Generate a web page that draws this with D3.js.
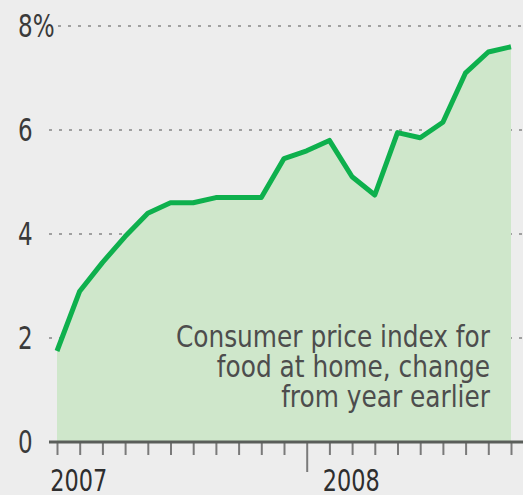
<!DOCTYPE html>
<html>
<head>
<meta charset="utf-8">
<script src="https://cdnjs.cloudflare.com/ajax/libs/d3/7.8.5/d3.min.js"></script>
<style>
  html, body { margin: 0; padding: 0; background: #ededed; }
  #graphicContainer { width: 523px; height: 495px; }
  text { font-family: "Liberation Sans Narrow", "DejaVu Sans Condensed", "Liberation Sans", sans-serif; }
</style>
</head>
<body>
<div id="graphicContainer"></div>
<script>

// monthly readings, Feb 2007 to Oct 2008

var months = ["2007-02", "2007-03", "2007-04", "2007-05", "2007-06", "2007-07", "2007-08",
  "2007-09", "2007-10", "2007-11", "2007-12", "2008-01", "2008-02", "2008-03", "2008-04",
  "2008-05", "2008-06", "2008-07", "2008-08", "2008-09", "2008-10"];

var foodAtHome = [1.75, 2.9, 3.45, 3.95, 4.4, 4.6, 4.6, 4.7, 4.7, 4.7, 5.45,
  5.6, 5.8, 5.1, 4.75, 5.95, 5.85, 6.15, 7.1, 7.5, 7.6];

var yTicks = [0, 2, 4, 6, 8];
var yTickLabels = ["0", "2", "4", "6", "8%"];

var years = ["2007", "2008"];

var noteLines = ["Consumer price index for", "food at home, change", "from year earlier"];

function draw_chart() {

    var width = 523, height = 495;
    var margin = {top: 26, right: 12, bottom: 53, left: 57};

    d3.select("#graphicContainer svg").remove();

    var svg = d3.select("#graphicContainer").append("svg")
        .attr("width", width)
        .attr("height", height);

    // squeeze a text to the narrow width the original font had

    var narrow = (sel, ratio) => sel.each(function() {
        var w = this.getComputedTextLength();
        d3.select(this)
            .attr("textLength", w * ratio)
            .attr("lengthAdjust", "spacingAndGlyphs");
    });

    // month index from the "yyyy-mm" strings, first month = 0

    var first = months[0].split("-").map(Number);
    var monthIndex = m => {
        var p = m.split("-").map(Number);
        return (p[0] - first[0]) * 12 + (p[1] - first[1]);
    };

    var data = months.map((m, i) => ({i: monthIndex(m), value: foodAtHome[i]}));

    var x = d3.scaleLinear()
        .domain([0, months.length - 1])
        .range([margin.left, width - margin.right]);

    var y = d3.scaleLinear()
        .domain([0, 8])
        .range([height - margin.bottom, margin.top]);

    // dotted gridlines

    svg.append("g")
        .selectAll("line")
        .data(yTicks.filter(d => d > 0))
        .enter()
        .append("line")
        .attr("x1", d => d == 8 ? 58 : 49)
        .attr("x2", width)
        .attr("y1", d => y(d))
        .attr("y2", d => y(d))
        .attr("stroke", "#a0a0a0")
        .attr("stroke-width", 2)
        .attr("stroke-dasharray", "3,7");

    // area and line

    var area = d3.area()
        .x(d => x(d.i))
        .y0(y(0))
        .y1(d => y(d.value));

    var line = d3.line()
        .x(d => x(d.i))
        .y(d => y(d.value));

    svg.append("path")
        .datum(data)
        .attr("d", area)
        .attr("fill", "#cfe7cb");

    svg.append("path")
        .datum(data)
        .attr("d", line)
        .attr("fill", "none")
        .attr("stroke", "#0eb04d")
        .attr("stroke-width", 5)
        .attr("stroke-linejoin", "round");

    // y labels

    svg.append("g")
        .selectAll("text")
        .data(yTicks)
        .enter()
        .append("text")
        .attr("x", 18)
        .attr("y", d => y(d) + 11)
        .attr("font-size", 32)
        .attr("fill", "#3a3a3a")
        .text((d, i) => yTickLabels[i])
        .call(narrow, 0.8);

    // x axis with month ticks

    var yearStarts = years.map(yr => monthIndex(yr + "-01"));

    var xAxis = d3.axisBottom(x)
        .tickValues(data.map(d => d.i))
        .tickSize(13)
        .tickFormat("");

    var gx = svg.append("g")
        .attr("transform", `translate(0,${y(0)})`)
        .call(xAxis);

    gx.select(".domain").remove();
    gx.selectAll(".tick line")
        .attr("stroke", "#7a7a7a")
        .attr("stroke-width", 2)
        .attr("y2", d => yearStarts.includes(d) ? 30 : 13);

    svg.append("line")
        .attr("x1", 49)
        .attr("x2", width)
        .attr("y1", y(0))
        .attr("y2", y(0))
        .attr("stroke", "#5a5e5a")
        .attr("stroke-width", 3);

    svg.append("g")
        .selectAll("text")
        .data(years)
        .enter()
        .append("text")
        .attr("x", (d, i) => x(yearStarts[i]) + 16)
        .attr("y", 491)
        .attr("font-size", 30)
        .attr("fill", "#2e2e2e")
        .text(d => d)
        .call(narrow, 0.83);

    // note

    svg.append("g")
        .selectAll("text")
        .data(noteLines)
        .enter()
        .append("text")
        .attr("x", 490)
        .attr("y", (d, i) => 347 + i * 30)
        .attr("text-anchor", "end")
        .attr("font-size", 30)
        .attr("fill", "#4d4d4d")
        .text(d => d)
        .call(narrow, 0.92);
}

draw_chart();

</script>
</body>
</html>
